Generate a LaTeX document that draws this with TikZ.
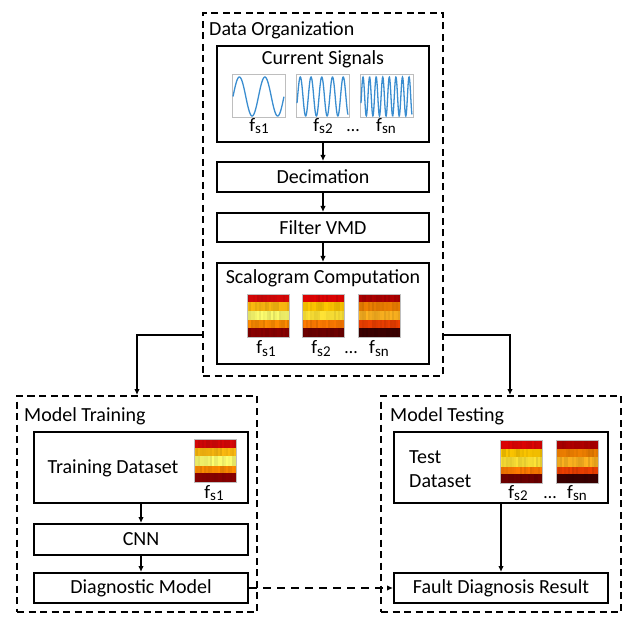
\documentclass[tikz,border=0pt]{standalone}
\usepackage{fontspec}
\setmainfont{Carlito}
\usetikzlibrary{arrows.meta}
\definecolor{sigblue}{HTML}{3A8DD0}
\definecolor{frgray}{HTML}{BEBEBE}
\definecolor{aR}{HTML}{D80808}\definecolor{aA}{HTML}{FFBC10}\definecolor{aY}{HTML}{FFFF70}\definecolor{aO}{HTML}{FF8C00}\definecolor{aD}{HTML}{8A0000}
\definecolor{bR}{HTML}{E00404}\definecolor{bA}{HTML}{FFC800}\definecolor{bY}{HTML}{FFE436}\definecolor{bO}{HTML}{FF7A00}\definecolor{bD}{HTML}{6E0000}
\definecolor{cR}{HTML}{B00000}\definecolor{cA}{HTML}{F08000}\definecolor{cY}{HTML}{FFB420}\definecolor{cO}{HTML}{F04000}\definecolor{cD}{HTML}{3C0000}
\newcommand\fsub[1]{\fontsize{19}{19}\selectfont f\raisebox{-2pt}{\fontsize{15}{15}\selectfont #1}}
\newcommand\mysig[3]{%
  \draw[frgray, line width=1pt] (#1,75) rectangle (#1+53,118);
  \draw[sigblue, line width=1.3pt] plot[domain=0:1,samples=200] ({#1+1+51*\x},{96.5-19.5*sin(360*#2*\x+#3)});}
\newcommand\myscalo[7]{%
  \begin{scope}[shift={(#1,#2)}]
    \fill[#3] (0,0) rectangle (42,8.5);
    \fill[#4] (0,8.5) rectangle (42,17);
    \fill[#5] (0,17) rectangle (42,26.5);
    \fill[#6] (0,26.5) rectangle (42,34);
    \fill[#7] (0,34) rectangle (42,43);
    \foreach \bb/\cc in {0/8.5, 8.5/17, 17/26.5, 26.5/34, 34/43}{
      \foreach \i in {0,...,20}{
        \pgfmathsetmacro\op{0.12*rnd}
        \fill[black, opacity=\op] (2*\i,\bb) rectangle (2*\i+2,\cc);
      }}
    \draw[gray!50, line width=0.6pt] (0,0) rectangle (42,43);
  \end{scope}}
\tikzset{
  every node/.style={font=\fontsize{20}{24}\selectfont, inner sep=0pt},
  box/.style={draw=black, line width=2pt, minimum width=212pt},
  grp/.style={draw=black, line width=2pt, dash pattern=on 7pt off 4.5pt, minimum width=240pt},
  conn/.style={line width=1.5pt, -{Latex[length=6pt,width=5.5pt]}},
  dconn/.style={line width=1.8pt, dash pattern=on 8pt off 6pt, -{Latex[length=6pt,width=5.5pt]}},
}
\begin{document}
\begin{tikzpicture}[x=1pt,y=-1pt]
\pgfmathsetseed{7}
\useasboundingbox (0,0) rectangle (629,617);
% groups
\node[grp, minimum height=363pt] (dorg) at (323,194.5) {};
\node[grp, minimum height=216pt] (train) at (137,504) {};
\node[grp, minimum height=216pt] (test) at (501,504) {};
\node[anchor=base west] (dorgt) at (209,36) {Data Organization};
\node[anchor=base west] (traint) at (24,421) {Model Training};
\node[anchor=base west] (testt) at (390,421) {Model Testing};
% data organization
\node[box, minimum height=96pt] (cur) at (323,94) {};
\node[anchor=base] (curt) at (323,65) {Current Signals};
\mysig{232}{2}{0}
\mysig{296}{4.75}{-20}
\mysig{360}{7.75}{-20}
\node[anchor=base] (l1) at (259,132) {\fsub{s1}};
\node[anchor=base] (l2) at (323,132) {\fsub{s2}};
\node[anchor=base] (l3) at (353,132) {\fontsize{18}{18}\selectfont\textellipsis};
\node[anchor=base] (l4) at (386,132) {\fsub{sn}};
\node[box, minimum height=30pt] (dec) at (323,177) {Decimation};
\node[box, minimum height=29pt] (vmd) at (323,227.5) {Filter VMD};
\node[box, minimum height=101pt] (scal) at (323,313.5) {};
\node[anchor=base] (scalt) at (323,284) {Scalogram Computation};
\myscalo{247}{294}{aR}{aA}{aY}{aO}{aD}
\myscalo{302}{294}{bR}{bA}{bY}{bO}{bD}
\myscalo{358}{294}{cR}{cA}{cY}{cO}{cD}
\node[anchor=base] (s1) at (266,354) {\fsub{s1}};
\node[anchor=base] (s2) at (321,354) {\fsub{s2}};
\node[anchor=base] (s3) at (351,354) {\fontsize{18}{18}\selectfont\textellipsis};
\node[anchor=base] (s4) at (379,354) {\fsub{sn}};
\draw[conn] (cur.south) -- (dec.north);
\draw[conn] (dec.south) -- (vmd.north);
\draw[conn] (vmd.south) -- (scal.north);
% training
\node[box, minimum width=214pt, minimum height=71pt] (tds) at (141,467.5) {};
\node[anchor=base] (tdst) at (113,473) {Training Dataset};
\myscalo{194}{439}{aR}{aA}{aY}{aO}{aD}
\node[anchor=base] (t1) at (214,498) {\fsub{s1}};
\node[box, minimum width=214pt, minimum height=31pt] (cnn) at (141,539.5) {CNN};
\node[box, minimum width=214pt, minimum height=30pt] (diag) at (141,588) {Diagnostic Model};
\draw[conn] (tds.south) -- (cnn.north);
\draw[conn] (cnn.south) -- (diag.north);
% testing
\node[box, minimum width=214pt, minimum height=71pt] (teds) at (501,467.5) {};
\node[anchor=base west] (tedt1) at (409,463) {Test};
\node[anchor=base west] (tedt2) at (409,487) {Dataset};
\myscalo{500}{440}{bR}{bA}{bY}{bO}{bD}
\myscalo{556}{440}{cR}{cA}{cY}{cO}{cD}
\node[anchor=base] (u2) at (518,498) {\fsub{s2}};
\node[anchor=base] (u3) at (550,498) {\fontsize{18}{18}\selectfont\textellipsis};
\node[anchor=base] (u4) at (577,498) {\fsub{sn}};
\node[box, minimum width=214pt, minimum height=30pt] (fdr) at (501,588) {Fault Diagnosis Result};
\draw[conn] (teds.south) -- (fdr.north);
% connectors between groups
\coordinate (lj) at (137,335);
\coordinate (rj) at (510,335);
\draw[conn] (dorg.west |- lj) -| (train.north);
\draw[conn] (dorg.east |- rj) -| ([xshift=9pt]test.north);
\draw[dconn] (diag.east) -- (fdr.west);
\end{tikzpicture}
\end{document}
